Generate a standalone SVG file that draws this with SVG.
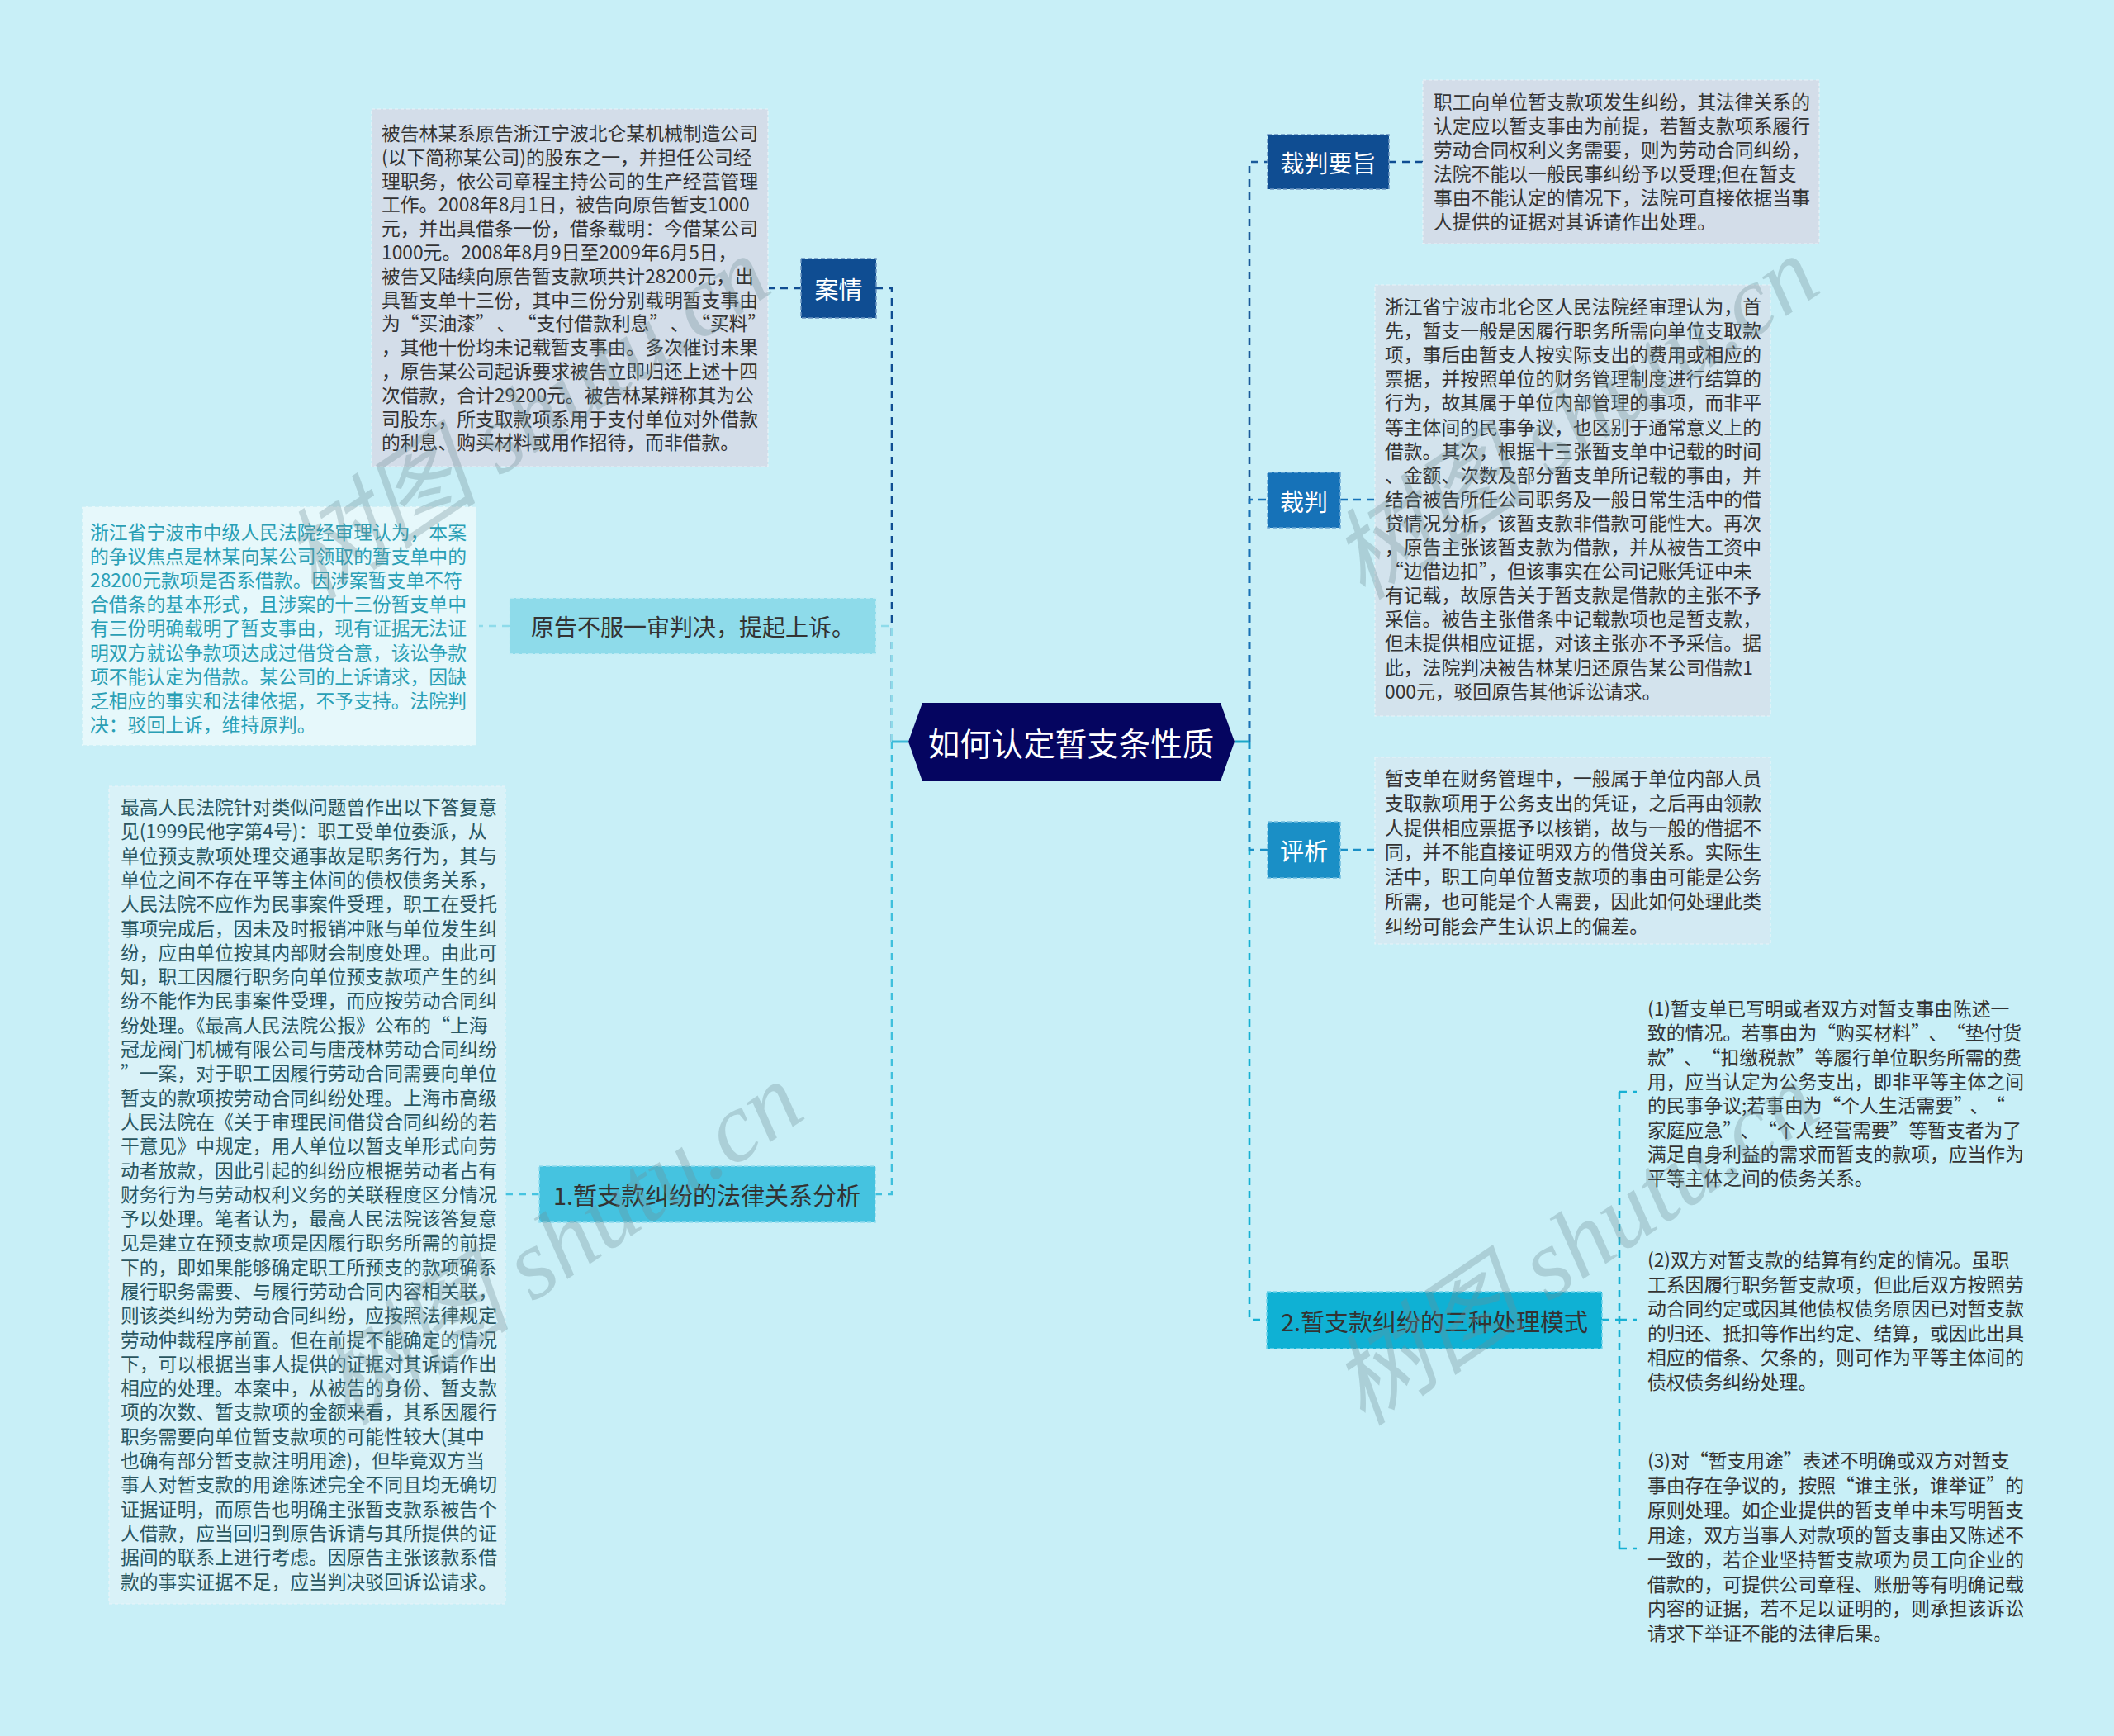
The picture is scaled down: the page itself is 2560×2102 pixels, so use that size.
<svg xmlns="http://www.w3.org/2000/svg" width="2560" height="2102" viewBox="0 0 2560 2102">
<defs>
<style>
.f{font-family:"Noto Sans CJK SC","Liberation Sans",sans-serif;}
.body{font-size:22.8px;fill:#333333;}
.lbl{text-anchor:middle;dominant-baseline:central;}
.con{fill:none;stroke-width:2.6;stroke-dasharray:9 7;}
.nb{stroke-width:1.5;stroke-dasharray:5 3;}
.tb{stroke:#eaf4f9;stroke-width:1.2;stroke-dasharray:4 3;}
.q{font-feature-settings:"fwid" 1;}
.wm{font-family:"Liberation Serif","Noto Sans CJK SC",serif;font-style:italic;font-size:120px;fill:#6f8f96;opacity:0.32;text-anchor:middle;}
</style>
</defs>
<rect x="0" y="0" width="2560" height="2102" fill="#c8eff7"/>

<g id="connectors">
<path class="con" stroke="#0f4d92" d="M1080,898 V349 H1061"/>
<path class="con" stroke="#8edbea" d="M1080,898 V758 H1061"/>
<path class="con" stroke="#3fc0dd" d="M1080,898 V1446 H1060"/>
<path d="M1100,898 H1080" stroke="#3cb8d8" stroke-width="3" fill="none"/>
<path class="con" stroke="#1a5a9a" d="M1513,898 V196 H1535"/>
<path class="con" stroke="#1672b8" d="M1513,898 V605 H1535"/>
<path class="con" stroke="#16b0d3" d="M1513,898 V1598 H1534"/>
<path class="con" stroke="#1a8fc6" d="M1513,898 V1029 H1535"/>
<path d="M1495,898 H1513" stroke="#1aa6c8" stroke-width="3" fill="none"/>
<path class="con" stroke="#0f4d92" d="M970,349 H931"/>
<path class="con" stroke="#8edbea" d="M617,758 H580"/>
<path class="con" stroke="#45c3e0" d="M653,1446 H612"/>
<path class="con" stroke="#0f4d92" d="M1682,196 H1723"/>
<path class="con" stroke="#1672b8" d="M1623,605 H1665"/>
<path class="con" stroke="#1a8fc6" d="M1623,1029 H1665"/>
<path class="con" stroke="#16b0d3" stroke-width="2" d="M1940,1598 H1961 M1961,1322 V1875 M1961,1322 H1982 M1961,1598 H1982 M1961,1875 H1982"/>
</g>

<g id="center">
<polygon points="1100,898 1117,851 1478,851 1495,898 1478,946 1117,946" fill="#050560"/>
<text class="f lbl" x="1297" y="898" font-size="38.5" fill="#ffffff">如何认定暂支条性质</text>
</g>

<g id="node-anqing">
<rect x="970" y="313" width="91" height="72" fill="#0f4d92" class="nb" stroke="#6a93c0"/>
<text class="f lbl" x="1015.5" y="349" font-size="29" fill="#ffffff">案情</text>
</g>
<g id="text-anqing">
<rect x="450" y="132" width="480" height="433" fill="#d3dde9" class="tb"/>
<text class="f body" x="462" y="170">
<tspan x="462" dy="0">被告林某系原告浙江宁波北仑某机械制造公司</tspan>
<tspan x="462" dy="28.8">(以下简称某公司)的股东之一，并担任公司经</tspan>
<tspan x="462" dy="28.8">理职务，依公司章程主持公司的生产经营管理</tspan>
<tspan x="462" dy="28.8">工作。2008年8月1日，被告向原告暂支1000</tspan>
<tspan x="462" dy="28.8">元，并出具借条一份，借条载明：今借某公司</tspan>
<tspan x="462" dy="28.8">1000元。2008年8月9日至2009年6月5日，</tspan>
<tspan x="462" dy="28.8">被告又陆续向原告暂支款项共计28200元，出</tspan>
<tspan x="462" dy="28.8">具暂支单十三份，其中三份分别载明暂支事由</tspan>
<tspan x="462" dy="28.8">为<tspan class="q">“</tspan>买油漆<tspan class="q">”</tspan><tspan dx="14">、</tspan><tspan class="q" dx="14">“</tspan>支付借款利息<tspan class="q">”</tspan><tspan dx="14">、</tspan><tspan class="q" dx="14">“</tspan>买料<tspan class="q">”</tspan></tspan>
<tspan x="462" dy="28.8">，其他十份均未记载暂支事由。多次催讨未果</tspan>
<tspan x="462" dy="28.8">，原告某公司起诉要求被告立即归还上述十四</tspan>
<tspan x="462" dy="28.8">次借款，合计29200元。被告林某辩称其为公</tspan>
<tspan x="462" dy="28.8">司股东，所支取款项系用于支付单位对外借款</tspan>
<tspan x="462" dy="28.8">的利息、购买材料或用作招待，而非借款。</tspan>
</text>
</g>

<g id="node-yuangao">
<rect x="617" y="724" width="444" height="68" fill="#8edbea" class="nb" stroke="#c4eef6"/>
<text class="f lbl" x="839" y="758" font-size="28" fill="#333333">原告不服一审判决，提起上诉。</text>
</g>
<g id="text-yuangao">
<rect x="99" y="613" width="478" height="290" fill="#e6f8fb" class="nb" stroke="#c9eef6"/>
<text class="f" x="109" y="653" font-size="22.8" fill="#2a9fb5">
<tspan x="109" dy="0">浙江省宁波市中级人民法院经审理认为，本案</tspan>
<tspan x="109" dy="29.1">的争议焦点是林某向某公司领取的暂支单中的</tspan>
<tspan x="109" dy="29.1">28200元款项是否系借款。因涉案暂支单不符</tspan>
<tspan x="109" dy="29.1">合借条的基本形式，且涉案的十三份暂支单中</tspan>
<tspan x="109" dy="29.1">有三份明确载明了暂支事由，现有证据无法证</tspan>
<tspan x="109" dy="29.1">明双方就讼争款项达成过借贷合意，该讼争款</tspan>
<tspan x="109" dy="29.1">项不能认定为借款。某公司的上诉请求，因缺</tspan>
<tspan x="109" dy="29.1">乏相应的事实和法律依据，不予支持。法院判</tspan>
<tspan x="109" dy="29.1">决：驳回上诉，维持原判。</tspan>
</text>
</g>

<g id="node-fenxi1">
<rect x="653" y="1412" width="407" height="68" fill="#45c3e0" class="nb" stroke="#8fdcee"/>
<text class="f lbl" x="856" y="1446" font-size="29" fill="#333333">1.暂支款纠纷的法律关系分析</text>
</g>
<g id="text-fenxi1">
<rect x="132" y="952" width="480" height="990" fill="#d9f2f8" class="tb"/>
<text class="f" x="146" y="986" font-size="22.8" fill="#2a5660">
<tspan x="146" dy="0">最高人民法院针对类似问题曾作出以下答复意</tspan>
<tspan x="146" dy="29.3">见(1999民他字第4号)：职工受单位委派，从</tspan>
<tspan x="146" dy="29.3">单位预支款项处理交通事故是职务行为，其与</tspan>
<tspan x="146" dy="29.3">单位之间不存在平等主体间的债权债务关系，</tspan>
<tspan x="146" dy="29.3">人民法院不应作为民事案件受理，职工在受托</tspan>
<tspan x="146" dy="29.3">事项完成后，因未及时报销冲账与单位发生纠</tspan>
<tspan x="146" dy="29.3">纷，应由单位按其内部财会制度处理。由此可</tspan>
<tspan x="146" dy="29.3">知，职工因履行职务向单位预支款项产生的纠</tspan>
<tspan x="146" dy="29.3">纷不能作为民事案件受理，而应按劳动合同纠</tspan>
<tspan x="146" dy="29.3">纷处理。《最高人民法院公报》公布的<tspan class="q">“</tspan>上海</tspan>
<tspan x="146" dy="29.3">冠龙阀门机械有限公司与唐茂林劳动合同纠纷</tspan>
<tspan x="146" dy="29.3"><tspan class="q">”</tspan>一案，对于职工因履行劳动合同需要向单位</tspan>
<tspan x="146" dy="29.3">暂支的款项按劳动合同纠纷处理。上海市高级</tspan>
<tspan x="146" dy="29.3">人民法院在《关于审理民间借贷合同纠纷的若</tspan>
<tspan x="146" dy="29.3">干意见》中规定，用人单位以暂支单形式向劳</tspan>
<tspan x="146" dy="29.3">动者放款，因此引起的纠纷应根据劳动者占有</tspan>
<tspan x="146" dy="29.3">财务行为与劳动权利义务的关联程度区分情况</tspan>
<tspan x="146" dy="29.3">予以处理。笔者认为，最高人民法院该答复意</tspan>
<tspan x="146" dy="29.3">见是建立在预支款项是因履行职务所需的前提</tspan>
<tspan x="146" dy="29.3">下的，即如果能够确定职工所预支的款项确系</tspan>
<tspan x="146" dy="29.3">履行职务需要、与履行劳动合同内容相关联，</tspan>
<tspan x="146" dy="29.3">则该类纠纷为劳动合同纠纷，应按照法律规定</tspan>
<tspan x="146" dy="29.3">劳动仲裁程序前置。但在前提不能确定的情况</tspan>
<tspan x="146" dy="29.3">下，可以根据当事人提供的证据对其诉请作出</tspan>
<tspan x="146" dy="29.3">相应的处理。本案中，从被告的身份、暂支款</tspan>
<tspan x="146" dy="29.3">项的次数、暂支款项的金额来看，其系因履行</tspan>
<tspan x="146" dy="29.3">职务需要向单位暂支款项的可能性较大(其中</tspan>
<tspan x="146" dy="29.3">也确有部分暂支款注明用途)，但毕竟双方当</tspan>
<tspan x="146" dy="29.3">事人对暂支款的用途陈述完全不同且均无确切</tspan>
<tspan x="146" dy="29.3">证据证明，而原告也明确主张暂支款系被告个</tspan>
<tspan x="146" dy="29.3">人借款，应当回归到原告诉请与其所提供的证</tspan>
<tspan x="146" dy="29.3">据间的联系上进行考虑。因原告主张该款系借</tspan>
<tspan x="146" dy="29.3">款的事实证据不足，应当判决驳回诉讼请求。</tspan>
</text>
</g>

<g id="node-yaozhi">
<rect x="1535" y="163" width="147" height="66" fill="#0f4d92" class="nb" stroke="#6a93c0"/>
<text class="f lbl" x="1608.5" y="196" font-size="29" fill="#ffffff">裁判要旨</text>
</g>
<g id="text-yaozhi">
<rect x="1723" y="97" width="480" height="198" fill="#d3dde9" class="tb"/>
<text class="f body" x="1736" y="131.5">
<tspan x="1736" dy="0">职工向单位暂支款项发生纠纷，其法律关系的</tspan>
<tspan x="1736" dy="29">认定应以暂支事由为前提，若暂支款项系履行</tspan>
<tspan x="1736" dy="29">劳动合同权利义务需要，则为劳动合同纠纷，</tspan>
<tspan x="1736" dy="29">法院不能以一般民事纠纷予以受理;但在暂支</tspan>
<tspan x="1736" dy="29">事由不能认定的情况下，法院可直接依据当事</tspan>
<tspan x="1736" dy="29">人提供的证据对其诉请作出处理。</tspan>
</text>
</g>

<g id="node-caipan">
<rect x="1535" y="572" width="88" height="67" fill="#1672b8" class="nb" stroke="#6aa6d4"/>
<text class="f lbl" x="1579" y="605.5" font-size="29" fill="#ffffff">裁判</text>
</g>
<g id="text-caipan">
<rect x="1665" y="345" width="479" height="522" fill="#d3e3ed" class="tb"/>
<text class="f body" x="1677" y="380">
<tspan x="1677" dy="0">浙江省宁波市北仑区人民法院经审理认为，首</tspan>
<tspan x="1677" dy="29.1">先，暂支一般是因履行职务所需向单位支取款</tspan>
<tspan x="1677" dy="29.1">项，事后由暂支人按实际支出的费用或相应的</tspan>
<tspan x="1677" dy="29.1">票据，并按照单位的财务管理制度进行结算的</tspan>
<tspan x="1677" dy="29.1">行为，故其属于单位内部管理的事项，而非平</tspan>
<tspan x="1677" dy="29.1">等主体间的民事争议，也区别于通常意义上的</tspan>
<tspan x="1677" dy="29.1">借款。其次，根据十三张暂支单中记载的时间</tspan>
<tspan x="1677" dy="29.1">、金额、次数及部分暂支单所记载的事由，并</tspan>
<tspan x="1677" dy="29.1">结合被告所任公司职务及一般日常生活中的借</tspan>
<tspan x="1677" dy="29.1">贷情况分析，该暂支款非借款可能性大。再次</tspan>
<tspan x="1677" dy="29.1">，原告主张该暂支款为借款，并从被告工资中</tspan>
<tspan x="1677" dy="29.1"><tspan class="q">“</tspan>边借边扣<tspan class="q">”</tspan>，但该事实在公司记账凭证中未</tspan>
<tspan x="1677" dy="29.1">有记载，故原告关于暂支款是借款的主张不予</tspan>
<tspan x="1677" dy="29.1">采信。被告主张借条中记载款项也是暂支款，</tspan>
<tspan x="1677" dy="29.1">但未提供相应证据，对该主张亦不予采信。据</tspan>
<tspan x="1677" dy="29.1">此，法院判决被告林某归还原告某公司借款1</tspan>
<tspan x="1677" dy="29.1">000元，驳回原告其他诉讼请求。</tspan>
</text>
</g>

<g id="node-pingxi">
<rect x="1535" y="995" width="88" height="68" fill="#1a8fc6" class="nb" stroke="#70bde0"/>
<text class="f lbl" x="1579" y="1029" font-size="29" fill="#ffffff">评析</text>
</g>
<g id="text-pingxi">
<rect x="1665" y="917" width="479" height="226" fill="#d3eaf3" class="tb"/>
<text class="f body" x="1677" y="951">
<tspan x="1677" dy="0">暂支单在财务管理中，一般属于单位内部人员</tspan>
<tspan x="1677" dy="29.8">支取款项用于公务支出的凭证，之后再由领款</tspan>
<tspan x="1677" dy="29.8">人提供相应票据予以核销，故与一般的借据不</tspan>
<tspan x="1677" dy="29.8">同，并不能直接证明双方的借贷关系。实际生</tspan>
<tspan x="1677" dy="29.8">活中，职工向单位暂支款项的事由可能是公务</tspan>
<tspan x="1677" dy="29.8">所需，也可能是个人需要，因此如何处理此类</tspan>
<tspan x="1677" dy="29.8">纠纷可能会产生认识上的偏差。</tspan>
</text>
</g>

<g id="node-moshi2">
<rect x="1534" y="1564" width="406" height="69" fill="#0fb1d4" class="nb" stroke="#6fd3ea"/>
<text class="f lbl" x="1737" y="1598.5" font-size="29" fill="#333333">2.暂支款纠纷的三种处理模式</text>
</g>
<g id="text-moshi-1">
<text class="f body" x="1995" y="1230">
<tspan x="1995" dy="0">(1)暂支单已写明或者双方对暂支事由陈述一</tspan>
<tspan x="1995" dy="29.3">致的情况。若事由为<tspan class="q">“</tspan>购买材料<tspan class="q">”</tspan><tspan dx="10">、</tspan><tspan class="q" dx="10">“</tspan>垫付货</tspan>
<tspan x="1995" dy="29.3">款<tspan class="q">”</tspan><tspan dx="10">、</tspan><tspan class="q" dx="10">“</tspan>扣缴税款<tspan class="q">”</tspan>等履行单位职务所需的费</tspan>
<tspan x="1995" dy="29.3">用，应当认定为公务支出，即非平等主体之间</tspan>
<tspan x="1995" dy="29.3">的民事争议;若事由为<tspan class="q">“</tspan>个人生活需要<tspan class="q">”</tspan><tspan dx="8">、</tspan><tspan class="q" dx="8">“</tspan></tspan>
<tspan x="1995" dy="29.3">家庭应急<tspan class="q">”</tspan><tspan dx="10">、</tspan><tspan class="q" dx="10">“</tspan>个人经营需要<tspan class="q">”</tspan>等暂支者为了</tspan>
<tspan x="1995" dy="29.3">满足自身利益的需求而暂支的款项，应当作为</tspan>
<tspan x="1995" dy="29.3">平等主体之间的债务关系。</tspan>
</text>
</g>
<g id="text-moshi-2">
<text class="f body" x="1995" y="1534">
<tspan x="1995" dy="0">(2)双方对暂支款的结算有约定的情况。虽职</tspan>
<tspan x="1995" dy="29.6">工系因履行职务暂支款项，但此后双方按照劳</tspan>
<tspan x="1995" dy="29.6">动合同约定或因其他债权债务原因已对暂支款</tspan>
<tspan x="1995" dy="29.6">的归还、抵扣等作出约定、结算，或因此出具</tspan>
<tspan x="1995" dy="29.6">相应的借条、欠条的，则可作为平等主体间的</tspan>
<tspan x="1995" dy="29.6">债权债务纠纷处理。</tspan>
</text>
</g>
<g id="text-moshi-3">
<text class="f body" x="1995" y="1777">
<tspan x="1995" dy="0">(3)对<tspan class="q">“</tspan>暂支用途<tspan class="q">”</tspan>表述不明确或双方对暂支</tspan>
<tspan x="1995" dy="29.9">事由存在争议的，按照<tspan class="q">“</tspan>谁主张，谁举证<tspan class="q">”</tspan>的</tspan>
<tspan x="1995" dy="29.9">原则处理。如企业提供的暂支单中未写明暂支</tspan>
<tspan x="1995" dy="29.9">用途，双方当事人对款项的暂支事由又陈述不</tspan>
<tspan x="1995" dy="29.9">一致的，若企业坚持暂支款项为员工向企业的</tspan>
<tspan x="1995" dy="29.9">借款的，可提供公司章程、账册等有明确记载</tspan>
<tspan x="1995" dy="29.9">内容的证据，若不足以证明的，则承担该诉讼</tspan>
<tspan x="1995" dy="29.9">请求下举证不能的法律后果。</tspan>
</text>
</g>

<g id="watermarks">
<text class="wm" x="0" y="0" transform="translate(660,540) rotate(-34)">树图 shutu.cn</text>
<text class="wm" x="0" y="0" transform="translate(700,1540) rotate(-34)">树图 shutu.cn</text>
<text class="wm" x="0" y="0" transform="translate(1930,540) rotate(-34)">树图 shutu.cn</text>
<text class="wm" x="0" y="0" transform="translate(1930,1540) rotate(-34)">树图 shutu.cn</text>
</g>
</svg>
